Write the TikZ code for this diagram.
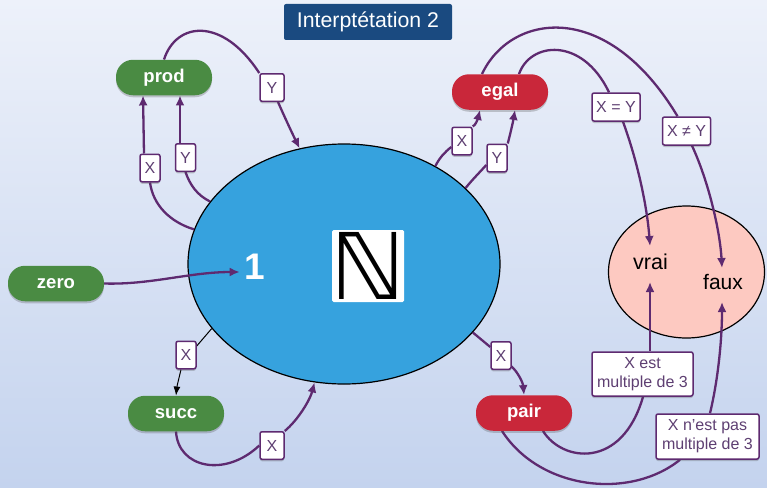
\documentclass[tikz,border=0pt]{standalone}
\usepackage{fontspec}
\setmainfont{Liberation Sans}
\newfontfamily\symfont{DejaVu Sans}
\usetikzlibrary{arrows.meta,shadows,shapes.geometric}
\definecolor{edgepurple}{HTML}{5E2A70}
\definecolor{labeltext}{HTML}{5E3F72}
\definecolor{pillgreen}{HTML}{4A8B43}
\definecolor{pillred}{HTML}{C9273A}
\definecolor{titleblue}{HTML}{1A4A80}
\definecolor{setblue}{HTML}{36A2DE}
\definecolor{setpink}{HTML}{FDC9C1}
\definecolor{bgtop}{HTML}{EDF1FA}
\definecolor{bgbot}{HTML}{C4D3EE}
\pgfdeclarelayer{bg}
\pgfdeclarelayer{edgelayer}
\pgfsetlayers{bg,edgelayer,main}
\tikzset{
  softshadow/.style={drop shadow={shadow xshift=0pt,shadow yshift=-2pt,opacity=.28,fill=black!70}},
  pill/.style={rectangle,rounded corners=17pt,minimum width=96pt,minimum height=35.5pt,inner sep=0pt,text=white,font=\fontsize{18.5}{20}\selectfont\bfseries,softshadow},
  tag/.style={rectangle,rounded corners=2pt,fill=white,draw=edgepurple,line width=1.5pt,inner sep=0pt,text=labeltext,font=\fontsize{16}{19}\selectfont,align=center,softshadow},
  smalltag/.style={tag,minimum width=20pt,minimum height=27.5pt},
  midtag/.style={tag,minimum width=48pt,minimum height=28pt},
  link/.style={draw=edgepurple,line width=2.3pt},
  linkarrow/.style={link,-{Latex[length=10pt,width=9pt]}},
  thinlink/.style={draw=black,line width=1pt},
  thinarrow/.style={thinlink,-{Latex[length=9pt,width=7pt]}},
}
\begin{document}
\begin{tikzpicture}[x=1pt,y=-1pt]
\useasboundingbox (0,0) rectangle (767,487);
\begin{pgfonlayer}{bg}
\fill[top color=bgtop,bottom color=bgbot] (0,0) rectangle (767,487);
\node[ellipse,draw=black,line width=1.2pt,fill=setblue,minimum width=312pt,minimum height=240pt,inner sep=0pt] (N) at (344,264) {};
\node[ellipse,draw=black,line width=1.2pt,fill=setpink,minimum width=156pt,minimum height=132pt,inner sep=0pt] (T) at (686.5,272) {};
\end{pgfonlayer}
\node[rectangle,rounded corners=2pt,fill=titleblue,text=white,minimum width=168pt,minimum height=36pt,inner sep=0pt,font=\fontsize{21.3}{24}\selectfont] (title) at (368,22) {Interptétation 2};
\node[pill,fill=pillgreen] (prod) at (164,77.5) {prod};
\node[pill,fill=pillred] (egal) at (500,92) {egal};
\node[pill,fill=pillgreen] (zero) at (56,283.5) {zero};
\node[pill,fill=pillgreen] (succ) at (176,413.5) {succ};
\node[pill,fill=pillred] (pair) at (524,413) {pair};
\node[text=white,font=\fontsize{37}{38}\selectfont\bfseries] (one) at (254.5,267) {1};
\node[rectangle,rounded corners=1.5pt,fill=white,minimum size=72pt,inner sep=0pt] (nbox) at (368,266) {};
\node[inner sep=0pt,xscale=1.02,font=\fontsize{92}{92}\selectfont\symfont] (nn) at (nbox) {ℕ};
\node[font=\fontsize{21.5}{24}\selectfont] (vrai) at (650.5,262) {vrai};
\node[font=\fontsize{21}{24}\selectfont] (faux) at (723,282) {faux};
\node[smalltag,minimum width=24pt] (pyt) at (272,87.5) {Y};
\node[smalltag] (pxl) at (150,168) {X};
\node[smalltag] (pyl) at (185.5,157.5) {Y};
\node[smalltag] (ex) at (462,141) {X};
\node[smalltag] (ey) at (497,158) {Y};
\node[midtag] (eq) at (616,107) {X = Y};
\node[midtag] (ne) at (686.5,131) {X ≠ Y};
\node[smalltag] (px) at (501,355.5) {X};
\node[smalltag] (sx) at (186,355) {X};
\node[smalltag,minimum width=24pt] (sy) at (272,445.5) {X};
\node[tag,minimum width=101pt,minimum height=44pt] (m3) at (642.5,374) {X est\\multiple de 3};
\node[tag,minimum width=103pt,minimum height=45pt] (n3) at (707.5,436.5) {X n'est pas\\multiple de 3};
\begin{pgfonlayer}{edgelayer}
% prod
\path[link] (prod.north) .. controls (176,22) and (222,16) .. (pyt.north west);
\path[linkarrow] ([xshift=6pt]pyt.south) .. controls (285,118) and (293,135) .. (N.111.7);
\path[link] (N.167.3) .. controls (170,222) and (153,205) .. (pxl.south);
\path[linkarrow] ([xshift=-6pt]pxl.north) -- ([xshift=-21pt]prod.south);
\path[link] (N.155.7) .. controls (197,195) and (190,185) .. (pyl.south);
\path[linkarrow] ([xshift=-5.5pt]pyl.north) -- ([xshift=16pt]prod.south);
% egal
\path[link] (N.47.7) .. controls (440,157) and (445,152) .. ([yshift=-6pt]ex.west);
\path[linkarrow] (ex.north east) .. controls (476,125) and (478,118) .. ([xshift=-20pt]egal.south);
\path[link] (N.32.9) .. controls (472,180) and (480,172) .. ([yshift=-7pt]ey.west);
\path[linkarrow] (ey.north east) .. controls (510,135) and (513,122) .. ([xshift=15pt]egal.south);
\path[link] ([xshift=-18pt]egal.north) .. controls (510,14) and (606,-3) .. ([xshift=-9pt]ne.north);
\path[link] ([xshift=19pt]egal.north) .. controls (530,42) and (582,36) .. ([xshift=-7pt]eq.north);
\path[linkarrow] ([xshift=7pt]eq.south) .. controls (637,160) and (647,205) .. (650,246);
\path[linkarrow] ([xshift=5.5pt]ne.south) .. controls (708,180) and (720,230) .. (722,268);
% pair
\path[link] (N.-28.1) -- ([yshift=8.5pt]px.west);
\path[linkarrow] ([xshift=10pt,yshift=4pt]px.south) .. controls (518,372) and (523,383) .. (pair.north);
\path[link] ([xshift=19pt]pair.south) .. controls (562,462) and (622,470) .. ([xshift=.5pt]m3.south);
\path[linkarrow] ([xshift=7.5pt]m3.north) -- (650,282);
\path[link] ([xshift=-22pt]pair.south) .. controls (540,490) and (630,500) .. ([xshift=-27.5pt]n3.south);
\path[linkarrow] ([xshift=2.5pt]n3.north) .. controls (718,380) and (722,340) .. (722,302);
% zero
\path[linkarrow] (zero.east) .. controls (150,285) and (190,272) .. ([xshift=-1pt,yshift=-5pt]one.west);
% succ
\path[thinlink] (N.206.9) -- ([yshift=9pt]sx.east);
\path[thinarrow] ([xshift=-5pt]sx.south) .. controls (179,378) and (177,386) .. (succ.north);
\path[link] (succ.south) .. controls (178,468) and (225,478) .. (sy.west);
\path[linkarrow] (sy.north east) .. controls (298,420) and (310,400) .. (N.256.8);
\end{pgfonlayer}
\end{tikzpicture}
\end{document}
